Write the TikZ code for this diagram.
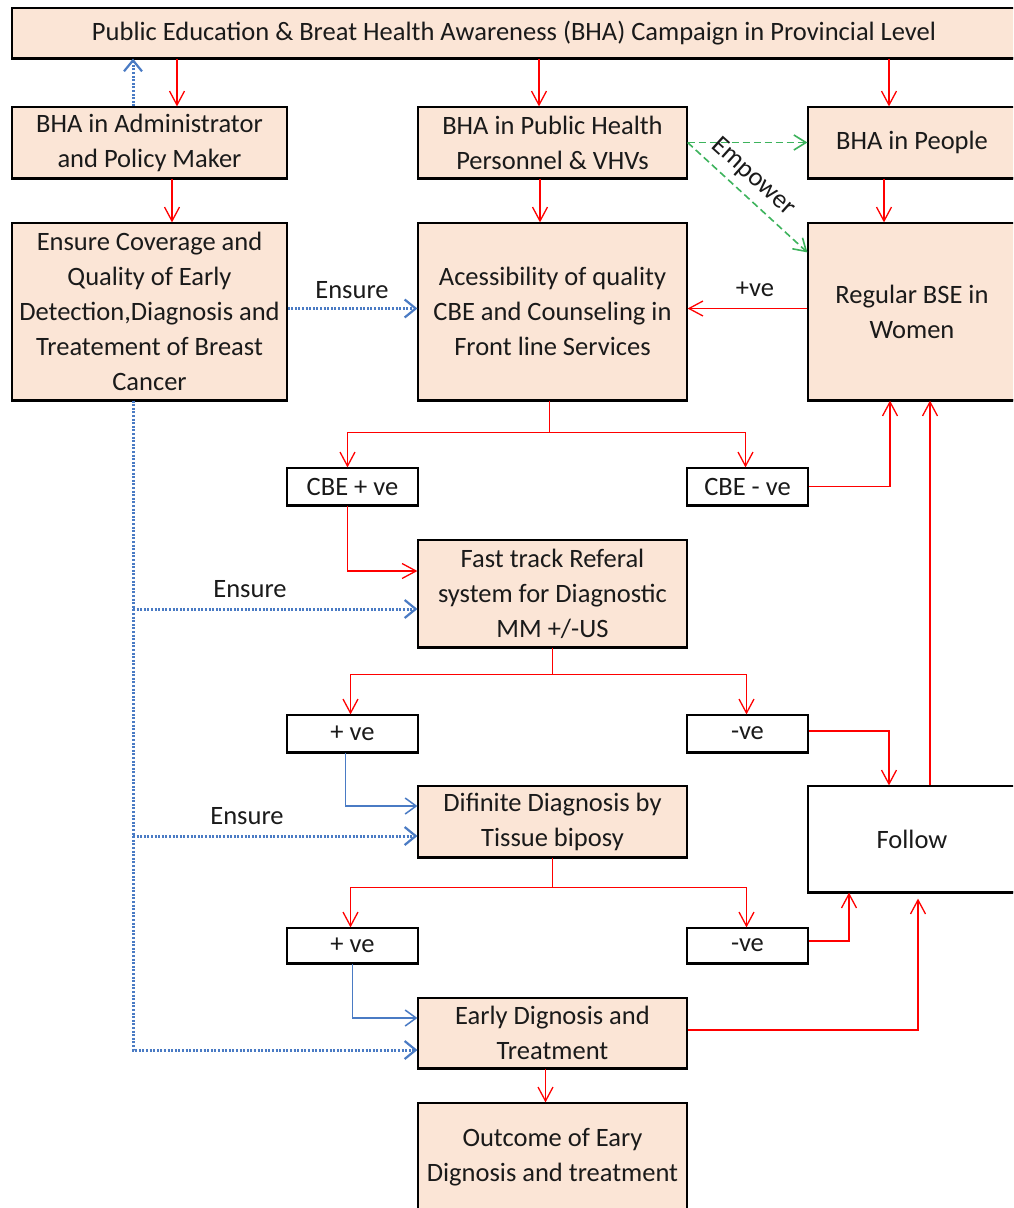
\documentclass[tikz,border=0pt]{standalone}
\usepackage{fontspec}
\setmainfont{Carlito}
\usetikzlibrary{arrows.meta,calc}
\definecolor{peach}{HTML}{FBE5D6}
\definecolor{ared}{HTML}{FF0000}
\definecolor{ablue}{HTML}{4A7BC4}
\definecolor{agreen}{HTML}{3DB35C}
\definecolor{txt}{HTML}{1A1A1A}
\newcommand\myfs{\fontsize{26.5}{35}\selectfont}
\begin{document}
\begin{tikzpicture}[x=1pt,y=-1pt,
  box/.style={draw=black,line width=1.2pt,fill=peach,inner sep=0pt,align=center,font=\myfs,text=txt},
  wbox/.style={box,fill=white},
  lbl/.style={inner sep=0pt,font=\myfs,text=txt},
  ra/.style={draw=ared,line width=1.3pt,-{Straight Barb[length=14pt,width=15pt,line width=1.3pt]}},
  rl/.style={draw=ared,line width=1.3pt},
  bd/.style={draw=ablue,line width=3pt,dash pattern=on 2pt off 1.6pt},
  bda/.style={bd,-{Straight Barb[length=11pt,width=18pt,line width=2.2pt]}},
  bs/.style={draw=ablue,line width=1.1pt,-{Straight Barb[length=11pt,width=16pt,line width=1.5pt]}},
  ga/.style={draw=agreen,line width=1.6pt,dash pattern=on 7pt off 4pt,-{Straight Barb[length=12pt,width=15pt,line width=1.6pt]}}]
\useasboundingbox (0,0) rectangle (1013,1208);
\fill[white] (0,0) rectangle (1013,1208);
\clip (0,0) rectangle (1013,1208);

% boxes
\node[box,minimum width=1004pt,minimum height=50pt] (top) at (514,33) {Public Education \& Breat Health Awareness (BHA) Campaign in Provincial Level};
\node[box,minimum width=275pt,minimum height=71pt] (admin) at (149.5,142.5) {BHA in Administrator\\and Policy Maker};
\node[box,minimum width=269pt,minimum height=71pt] (phealth) at (552.5,142.5) {BHA in Public Health\\Personnel \& VHVs};
\node[box,minimum width=208pt,minimum height=71pt] (people) at (912,142.5) {BHA in People};
\node[box,minimum width=275pt,minimum height=177pt] (ensure) at (149.5,311.5) {Ensure Coverage and\\Quality of Early\\Detection,Diagnosis and\\Treatement of Breast\\Cancer};
\node[box,minimum width=269pt,minimum height=177pt] (access) at (552.5,311.5) {Acessibility of quality\\CBE and Counseling in\\Front line Services};
\node[box,minimum width=208pt,minimum height=177pt] (bse) at (912,311.5) {Regular BSE in\\Women};
\node[wbox,minimum width=131pt,minimum height=37pt] (cbep) at (352.5,486.5) {CBE + ve};
\node[wbox,minimum width=121pt,minimum height=37pt] (cben) at (747.5,486.5) {CBE - ve};
\node[box,minimum width=269pt,minimum height=107pt] (fast) at (552.5,593.5) {Fast track Referal\\system for Diagnostic\\MM +/-US};
\node[wbox,minimum width=131pt,minimum height=37pt] (pos1) at (352.5,733.5) {+ ve};
\node[wbox,minimum width=121pt,minimum height=37pt] (neg1) at (747.5,733.5) {-ve};
\node[box,minimum width=269pt,minimum height=71pt] (defin) at (552.5,821.5) {Difinite Diagnosis by\\Tissue biposy};
\node[wbox,minimum width=208pt,minimum height=106pt] (follow) at (912,839) {Follow};
\node[wbox,minimum width=131pt,minimum height=35pt] (pos2) at (352.5,945.5) {+ ve};
\node[wbox,minimum width=121pt,minimum height=35pt] (neg2) at (747.5,945.5) {-ve};
\node[box,minimum width=269pt,minimum height=70pt] (early) at (552.5,1033) {Early Dignosis and\\Treatment};
\node[box,minimum width=269pt,minimum height=108pt] (outcome) at (552.5,1157) {Outcome of Eary\\Dignosis and treatment};

\foreach \n in {top,admin,phealth,people,ensure,access,bse,cbep,cben,fast,pos1,neg1,defin,follow,pos2,neg2,early,outcome}
  \draw[line width=2.6pt] (\n.south west) -- (\n.south east);

% column coordinates
\coordinate (x133) at (133,0);
\coordinate (x177) at (177,0);
\coordinate (x172) at (172,0);
\coordinate (x539) at (539,0);
\coordinate (x540) at (540,0);
\coordinate (x889) at (889,0);
\coordinate (x884) at (884,0);
\coordinate (x890) at (890,0);
\coordinate (x930) at (930,0);
\coordinate (x849) at (849,0);
\coordinate (x918) at (918,0);

% top level
\draw[ra] (top.south -| x177) -- (admin.north -| x177);
\draw[bda] (admin.north -| x133) -- (top.south -| x133);
\draw[ra] (top.south -| x539) -- (phealth.north -| x539);
\draw[ra] (top.south -| x889) -- (people.north -| x889);
\draw[ra] (admin.south -| x172) -- (ensure.north -| x172);
\draw[ra] (phealth.south -| x540) -- (access.north -| x540);
\draw[ra] (people.south -| x884) -- (bse.north -| x884);

% green empower
\draw[ga] (phealth.east) -- (people.west);
\draw[ga] (phealth.east) -- ($(bse.north west)+(0,30)$);
\node[lbl,rotate=-42] (emp) at (753,177) {Empower};

% +ve from BSE
\draw[ra] ($(bse.west)+(0,-3)$) -- ($(access.east)+(0,-3)$);
\node[lbl] (lpos) at (755,289) {+ve};

% ensure dotted
\draw[bda] ($(ensure.east)+(0,-3)$) -- ($(access.west)+(0,-3)$);
\node[lbl] (le1) at (352,290) {Ensure};
\coordinate (fe) at ($(fast.west)+(0,15.5)$);
\coordinate (de) at ($(defin.west)+(0,14.5)$);
\coordinate (ee) at ($(early.west)+(0,17)$);
\draw[bda] (ensure.south -| x133) |- (ee);
\draw[bda] (fe -| x133) -- (fe);
\draw[bda] (de -| x133) -- (de);
\node[lbl] (le2) at (250,589) {Ensure};
\node[lbl] (le3) at (247,816) {Ensure};

% CBE split
\draw[rl] ($(access.south)+(-3,0)$) -- ++(0,32) coordinate (j1);
\draw[ra] (j1) -| ($(cbep.north)+(-5,0)$);
\draw[ra] (j1) -| ($(cben.north)+(-2,0)$);
\draw[ra] (cben.east) -| (bse.south -| x890);
\draw[ra] (follow.north -| x930) -- (bse.south -| x930);
\draw[ra] ($(cbep.south)+(-5,0)$) |- ($(fast.west)+(0,-22.5)$);

% fast split
\draw[rl] (fast.south) -- ++(0,27) coordinate (j2);
\draw[ra] (j2) -| ($(pos1.north)+(-2,0)$);
\draw[ra] (j2) -| ($(neg1.north)+(-1,0)$);
\draw[ra] ($(neg1.east)+(0,-2.5)$) -| (follow.north -| x889);
\draw[bs] ($(pos1.south)+(-7,0)$) |- ($(defin.west)+(0,-15.5)$);

% definite split
\draw[rl] (defin.south) -- ++(0,30) coordinate (j3);
\draw[ra] (j3) -| ($(pos2.north)+(-2,0)$);
\draw[ra] (j3) -| ($(neg2.north)+(-1,0)$);
\draw[ra] ($(neg2.east)+(0,-4.5)$) -| (follow.south -| x849);
\draw[ra] ($(early.east)+(0,-3)$) -| ($(follow.south -| x918)+(0,6)$);
\draw[bs] (pos2.south) |- ($(early.west)+(0,-15)$);
\draw[ra] ($(early.south)+(-7,0)$) -- ($(outcome.north)+(-7,0)$);
\end{tikzpicture}
\end{document}
